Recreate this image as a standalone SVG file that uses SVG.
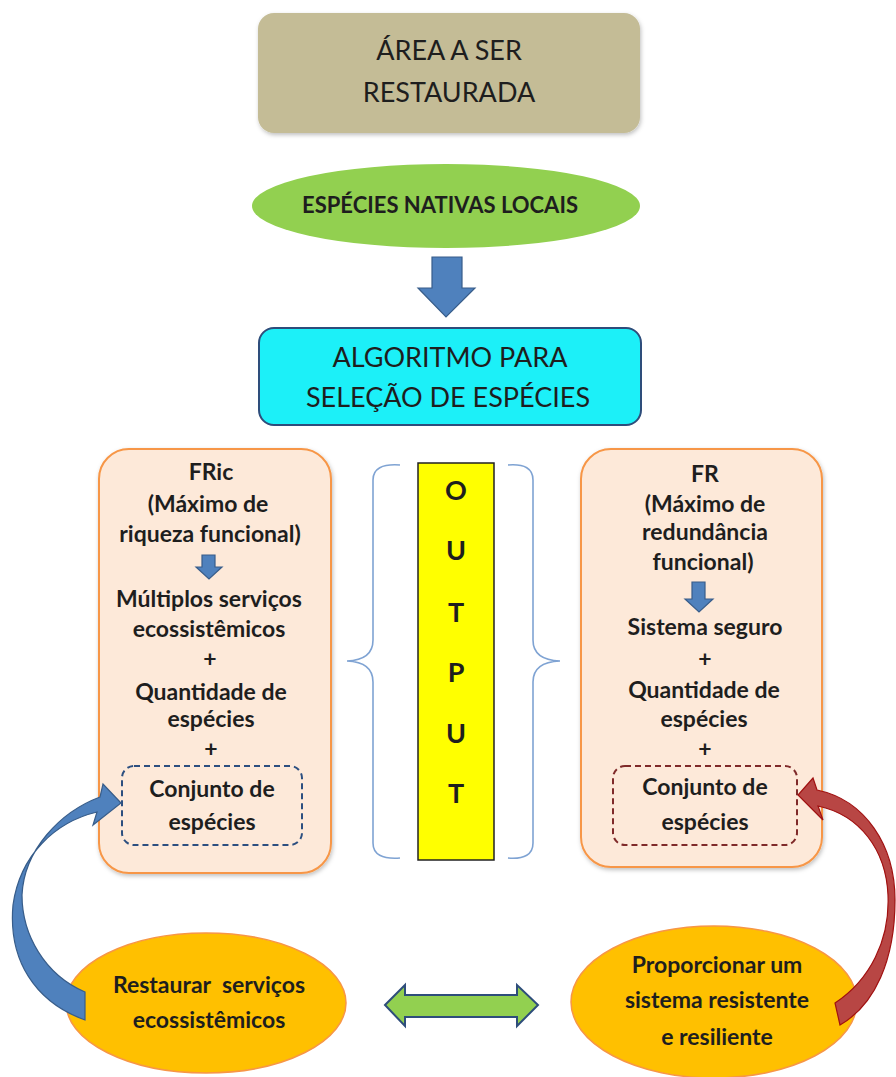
<svg xmlns="http://www.w3.org/2000/svg" width="896" height="1077" viewBox="0 0 896 1077">
<defs>
<filter id="sh" x="-10%" y="-10%" width="120%" height="130%">
<feDropShadow dx="1" dy="2" stdDeviation="2" flood-color="#000" flood-opacity="0.25"/>
</filter>
</defs>
<style>
text{font-family:Lato,"Open Sans","Liberation Sans",sans-serif;fill:#1e1e1e;text-anchor:middle}
.b{font-weight:bold;font-size:23px}
.big{font-size:27px}
.out{font-weight:bold;font-size:27px}
.panel{fill:#fde9d9;stroke:#f79646;stroke-width:2}
.dash{fill:none;stroke-width:2;stroke-dasharray:6 4}
.brace{fill:none;stroke:#7fa3d3;stroke-width:1.6}
.blue{fill:#4f81bd;stroke:#385d8a;stroke-width:1.2}
.goal{fill:#ffc000;stroke:#f79646;stroke-width:1.5}
</style>

<g id="area">
<rect x="258" y="13" width="382" height="120" rx="16" fill="#c4bc96" filter="url(#sh)"/>
<text class="big" x="449" y="60">ÁREA A SER</text>
<text class="big" x="449" y="102">RESTAURADA</text>
</g>

<g id="especies">
<ellipse cx="446" cy="206" rx="194" ry="42" fill="#92d050"/>
<text class="b" x="440" y="213" style="font-size:22px">ESPÉCIES NATIVAS LOCAIS</text>
</g>

<g id="algoritmo">
<rect x="259" y="328" width="382" height="97" rx="15" fill="#1cf0f8" stroke="#2e4d7b" stroke-width="2"/>
<text class="big" x="450" y="367">ALGORITMO PARA</text>
<text class="big" x="448" y="407">SELEÇÃO DE ESPÉCIES</text>
</g>

<g id="fric">
<rect class="panel" x="99" y="449" width="232" height="424" rx="30" filter="url(#sh)"/>
<text class="b" x="211" y="480">FRic</text>
<text class="b" x="208" y="512">(Máximo de</text>
<text class="b" x="210" y="542">riqueza funcional)</text>
<path class="blue" d="M202,555 H215 V567 H222 L209,579 L196,567 H202 Z"/>
<text class="b" x="209" y="607">Múltiplos serviços</text>
<text class="b" x="209" y="637">ecossistêmicos</text>
<text class="b" x="210" y="667">+</text>
<text class="b" x="211" y="700">Quantidade de</text>
<text class="b" x="211" y="727">espécies</text>
<text class="b" x="211" y="757">+</text>
<rect class="dash" x="122" y="766" width="180" height="79" rx="12" stroke="#2c4f80"/>
<text class="b" x="212" y="797">Conjunto de</text>
<text class="b" x="212" y="830">espécies</text>
</g>

<g id="fr">
<rect class="panel" x="581" y="449" width="241" height="418" rx="30" filter="url(#sh)"/>
<text class="b" x="705" y="482">FR</text>
<text class="b" x="705" y="512">(Máximo de</text>
<text class="b" x="705" y="540">redundância</text>
<text class="b" x="703" y="570">funcional)</text>
<path class="blue" d="M692,582 H705 V599 H713 L699,612 L685,599 H692 Z"/>
<text class="b" x="705" y="635">Sistema seguro</text>
<text class="b" x="705" y="667">+</text>
<text class="b" x="704" y="698">Quantidade de</text>
<text class="b" x="704" y="727">espécies</text>
<text class="b" x="705" y="757">+</text>
<rect class="dash" x="613" y="766" width="184" height="79" rx="12" stroke="#7f2a2a"/>
<text class="b" x="705" y="795">Conjunto de</text>
<text class="b" x="705" y="830">espécies</text>
</g>

<g id="output">
<rect x="418" y="463" width="76" height="397" fill="#ffff00" stroke="#222" stroke-width="1.5"/>
<text class="out" x="456" y="500">O</text>
<text class="out" x="456" y="560">U</text>
<text class="out" x="456" y="622">T</text>
<text class="out" x="456" y="682">P</text>
<text class="out" x="456" y="743">U</text>
<text class="out" x="456" y="803">T</text>
</g>

<g id="restaurar">
<ellipse class="goal" cx="206" cy="1003" rx="140" ry="70"/>
<text class="b" x="209" y="993" style="white-space:pre">Restaurar  serviços</text>
<text class="b" x="209" y="1028">ecossistêmicos</text>
</g>

<g id="proporcionar">
<ellipse class="goal" cx="714" cy="1002" rx="143" ry="76"/>
<text class="b" x="717" y="973">Proporcionar um</text>
<text class="b" x="717" y="1008">sistema resistente</text>
<text class="b" x="717" y="1045">e resiliente</text>
</g>

<g id="connectors">
<path class="blue" d="M432,257 H462 V288 H475 L446,317 L418,288 H432 Z"/>
<path class="brace" d="M400,465 Q373,463 373,480 V640 Q373,660 347,661 Q373,662 373,682 V843 Q373,860 400,858"/>
<path class="brace" d="M508,465 Q533,463 533,480 V640 Q533,660 560,661 Q533,662 533,682 V843 Q533,860 508,858"/>
<path d="M385,1005 L405,985 V995 H517 V985 L538,1005 L517,1026 V1017 H405 V1026 Z" fill="#92d050" stroke="#2e4d7b" stroke-width="2"/>
<path class="blue" d="M85,992 C45,975 22,935 22,895 C24,850 60,812 100,797 L103,784 L121,803 L93,825 L97,812 C55,822 20,855 13,905 C8,960 35,1002 85,1020 Z"/>
<path d="M835,1003 C870,980 890,940 888,895 C886,850 860,815 818,806 L823,820 L798,795 L813,778 L817,790 C865,800 895,845 895,900 C895,960 875,1005 840,1025 Z" fill="#b84644" stroke="#a01010" stroke-width="1.2"/>
</g>
</svg>
